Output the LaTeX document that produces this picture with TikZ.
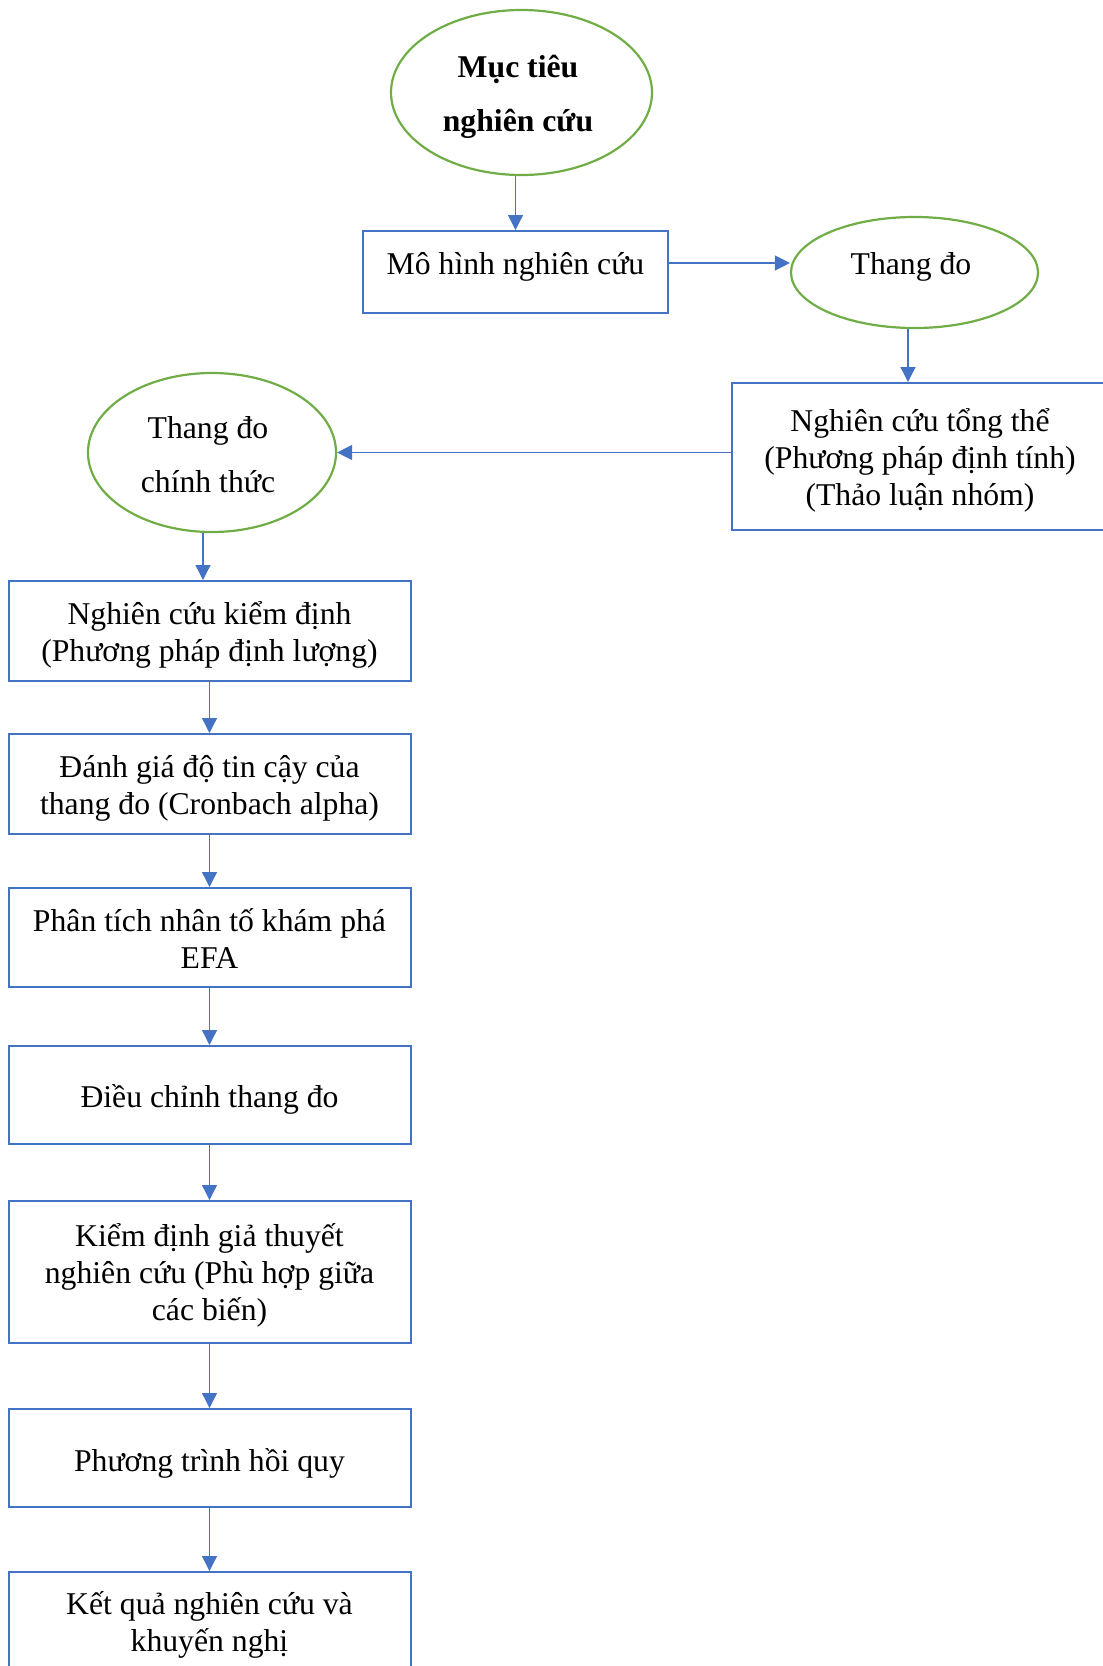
\documentclass[tikz,border=0pt]{standalone}
\usepackage{fontspec}
\setmainfont{Liberation Serif}
\usetikzlibrary{shapes.geometric,arrows.meta}
\definecolor{bl}{HTML}{4472C4}
\definecolor{gr}{HTML}{70AD47}
\begin{document}
\begin{tikzpicture}[x=0.5pt,y=-0.5pt,
  boxsty/.style={draw=bl,line width=1pt,inner sep=0pt},
  ellsty/.style={ellipse,draw=gr,line width=1.1pt,inner sep=0pt},
  txt/.style={align=center,font=\fontsize{15.85pt}{18.5pt}\selectfont,inner sep=0pt},
  etxt/.style={align=center,font=\fontsize{15.85pt}{27pt}\selectfont,inner sep=0pt},
  arr/.style={draw=bl,line width=0.65pt,-{Triangle[length=7.5pt,width=7.5pt]}}]
\useasboundingbox (0,0) rectangle (1103,1666);
\clip (0,0) rectangle (1103,1666);
% shapes
\node[ellsty,minimum width=130.5pt,minimum height=82.5pt] (e1) at (521.5,92.5) {};
\node[boxsty,minimum width=152.5pt,minimum height=41pt] (mh) at (515.5,272) {};
\node[ellsty,minimum width=123.5pt,minimum height=55.5pt] (td) at (914.5,272.5) {};
\node[boxsty,minimum width=188pt,minimum height=73.5pt] (tt) at (920,456.5) {};
\node[ellsty,minimum width=124pt,minimum height=79.5pt] (tdc) at (212,452.5) {};
\node[boxsty,minimum width=201pt,minimum height=50pt] (b1) at (209.5,631) {};
\node[boxsty,minimum width=201pt,minimum height=50pt] (b2) at (209.5,784) {};
\node[boxsty,minimum width=201pt,minimum height=49.5pt] (b3) at (209.5,937.5) {};
\node[boxsty,minimum width=201pt,minimum height=49pt] (b4) at (209.5,1095) {};
\node[boxsty,minimum width=201pt,minimum height=71pt] (b5) at (209.5,1272) {};
\node[boxsty,minimum width=201pt,minimum height=49pt] (b6) at (209.5,1458) {};
\node[boxsty,minimum width=201pt,minimum height=50pt] (b7) at (209.5,1622) {};
% texts
\node[etxt] (e1t) at (518,96.5) {\bfseries Mục tiêu\\\bfseries nghiên cứu};
\node[txt] (mht) at (515.5,267) {Mô hình nghiên cứu};
\node[txt] (tdt) at (911,267) {Thang đo};
\node[txt] (ttt) at (920,460.5) {Nghiên cứu tổng thể\\(Phương pháp định tính)\\(Thảo luận nhóm)};
\node[etxt] (tdct) at (208,455) {Thang đo\\chính thức};
\node[txt] (b1t) at (209.5,635) {Nghiên cứu kiểm định\\(Phương pháp định lượng)};
\node[txt] (b2t) at (209.5,788) {Đánh giá độ tin cậy của\\thang đo (Cronbach alpha)};
\node[txt] (b3t) at (209.5,939) {Phân tích nhân tố khám phá\\EFA};
\node[txt] (b4t) at (209.5,1099) {Điều chỉnh thang đo};
\node[txt] (b5t) at (209.5,1275) {Kiểm định giả thuyết\\nghiên cứu (Phù hợp giữa\\các biến)};
\node[txt] (b6t) at (209.5,1463) {Phương trình hồi quy};
\node[txt] (b7t) at (209.5,1625) {Kết quả nghiên cứu và\\khuyến nghị};
% connector anchors
\coordinate (c1) at (908,0);
\coordinate (c2) at (203,0);
\coordinate (c3) at (0,263);
% connectors
\draw[arr] (e1.south -| mh.north) -- (mh.north);
\draw[arr] (mh.east |- c3) -- (td.west |- c3);
\draw[arr] (td.south -| c1) -- (tt.north -| c1);
\draw[arr] (tt.west |- tdc.east) -- (tdc.east);
\draw[arr] (tdc.south -| c2) -- (b1.north -| c2);
\draw[arr] (b1) -- (b2);
\draw[arr] (b2) -- (b3);
\draw[arr] (b3) -- (b4);
\draw[arr] (b4) -- (b5);
\draw[arr] (b5) -- (b6);
\draw[arr] (b6) -- (b7);
\end{tikzpicture}
\end{document}
